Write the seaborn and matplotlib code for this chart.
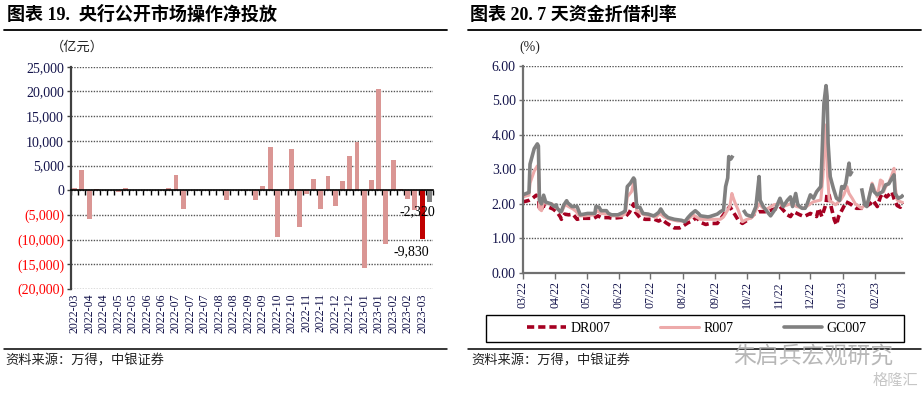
import matplotlib
matplotlib.use('Agg')
import matplotlib.pyplot as plt
import matplotlib.dates as mdates
from matplotlib.lines import Line2D
from matplotlib.patches import Rectangle
import seaborn as sns
import numpy as np
import pandas as pd

# ---------------- data: left panel (weekly net injection, 亿元) ----------------
weeks = list(range(50))
net_injection = [500, 4200, -5800, 200, 0, 0, -400, 400, 0, 0,
                 0, 0, 0, 500, 3000, -3800, 0, 100, 0, 0,
                 0, -2000, 0, 0, 0, -2000, 900, 8700, -9400, 0,
                 8400, -7400, -800, 2200, -3800, 2900, -3100, 1900, 7000, 9800,
                 -15800, 2100, 20500, -10800, 6100, 300, -1800, -4000, -9830, -2320]
bar_kind = ['历史'] * 48 + ['本周', '下周']
week_labels = ['2022-03', '2022-04', '2022-04', '2022-05', '2022-05', '2022-06', '2022-06',
               '2022-07', '2022-07', '2022-07', '2022-08', '2022-08', '2022-09', '2022-09',
               '2022-10', '2022-10', '2022-11', '2022-11', '2022-12', '2022-12',
               '2023-01', '2023-01', '2023-02', '2023-02', '2023-03']

# ---------------- data: right panel (7-day rates, %) ----------------
start_date = '2022-03-01'
gc_days = [0, 6, 7, 11, 14, 15, 16, 18, 20, 22, 27, 30, 32, 33, 36, 37, 39, 42, 43, 47,
           52, 55, 62, 69, 70, 73, 75, 80, 82, 85, 91, 96, 98, 100, 103, 106, 107, 109, 112, 115,
           120, 125, 127, 130, 132, 135, 139, 145, 152, 155, 158, 161, 165, 168, 170, 177,
           179, 186, 189, 192, 194, 196, 197, 199, 201, 202,
           211, 214, 219, 223, 226, 227, 230, 233, 237, 242, 246, 249, 253, 256, 258, 261, 263,
           267, 270, 272, 275, 278, 281, 285, 286, 288, 290, 291, 292, 294, 297, 300, 303, 305,
           307, 309, 311, 312, 313, 315, 316,
           324, 327, 329, 332, 334, 336, 339, 341, 344, 347, 350, 353, 355, 356, 359, 362, 364]
gc_vals = [2.26, 2.33, 3.15, 3.6, 3.74, 3.68, 2.1, 2.0, 2.25, 2.05, 2.0, 1.92, 1.97, 1.87, 1.77, 1.78, 1.95, 2.09, 2.03, 1.92,
           1.92, 1.68, 1.72, 1.72, 1.92, 1.9, 1.8, 1.8, 1.72, 1.68, 1.68, 1.75, 1.8, 2.5, 2.6, 2.75, 2.7, 1.9, 1.9, 1.72,
           1.7, 1.65, 1.68, 1.75, 1.85, 1.7, 1.6, 1.55, 1.52, 1.48, 1.6, 1.7, 1.8, 1.72, 1.65, 1.62,
           1.63, 1.7, 1.77, 1.82, 2.5, 2.75, 3.37, 3.3, 3.4, np.nan,
           1.82, 1.68, 1.63, 1.92, 2.79, 2.1, 1.92, 1.8, 1.65, 1.87, 2.16, 1.92, 2.1, 2.2, 1.92, 2.3, 1.97,
           1.87, 1.87, 2.0, 2.26, 2.16, 2.35, 2.5, 3.27, 4.92, 5.43, 5.12, 3.76, 2.79, 2.45, 2.16, 2.1, 2.5,
           2.45, 2.6, 3.0, 3.18, 2.84, 2.95, np.nan,
           2.45, 1.97, 1.92, 2.3, 2.55, 2.35, 2.26, 2.3, 2.35, 2.55, 2.58, 2.74, 2.84, 2.3, 2.16, 2.2, 2.26]

r_days = [0, 6, 7, 11, 14, 15, 16, 18, 20, 24, 28, 31, 35, 37, 40, 42, 45, 48, 51, 54,
          60, 68, 71, 75, 82, 86, 95, 98, 100, 104, 106, 108, 109, 112, 116, 124, 127, 131, 135, 141,
          148, 155, 158, 163, 167, 170, 177, 179, 189, 192, 195, 198, 200, 201, 203, 206, 210, 213,
          219, 222, 226, 230, 233, 240, 246, 249, 256, 262, 269, 275, 278, 285, 287, 289, 290, 291,
          293, 299, 304, 307, 310, 312, 315, 318, 324, 328, 331, 332, 334, 336, 339, 342, 344, 345,
          347, 350, 353, 355, 356, 358, 361, 364]
r_vals = [2.2, 2.25, 2.6, 2.95, 3.1, 3.05, 1.85, 1.8, 2.05, 2.0, 2.0, 1.9, 1.82, 1.75, 1.95, 1.95, 1.9, 1.85, 1.78, 1.65,
          1.65, 1.68, 1.8, 1.72, 1.7, 1.65, 1.65, 1.72, 2.2, 2.35, 2.6, 2.3, 1.8, 1.75, 1.68, 1.65, 1.6, 1.72, 1.62, 1.55,
          1.5, 1.5, 1.55, 1.68, 1.6, 1.55, 1.55, 1.55, 1.55, 1.62, 1.77, 1.92, 2.3, 2.2, 2.03, 1.82, 1.48, 1.53,
          1.6, 1.75, 2.0, 1.87, 1.84, 1.97, 2.0, 1.92, 2.0, 1.92, 1.87, 2.0, 2.06, 2.11, 2.79, 4.24, 4.29, 3.08,
          2.11, 1.97, 2.11, 2.26, 2.5, 2.3, 2.16, 2.0, 1.87, 2.0, 2.11, 2.3, 2.6, 2.45, 2.2, 2.69, 2.65, 2.35,
          2.5, 2.6, 2.84, 3.03, 2.5, 2.11, 2.06, 2.03]

dr_days = [0, 6, 9, 13, 15, 16, 18, 20, 25, 29, 33, 36, 37, 40, 44, 48, 52, 56, 68, 72,
           75, 82, 86, 98, 102, 106, 108, 112, 117, 126, 130, 133, 137, 145, 150, 153, 158, 162, 166, 171,
           175, 179, 186, 189, 192, 198, 200, 203, 206, 210, 216, 222, 226, 233, 243, 246, 249, 253, 256, 259,
           265, 269, 275, 281, 283, 286, 290, 291, 293, 295, 298, 300, 302, 307, 309, 313, 319, 326, 332, 335,
           339, 342, 344, 348, 353, 355, 358, 361, 364]
dr_vals = [2.05, 2.1, 2.15, 2.25, 2.2, 1.8, 1.85, 1.95, 1.9, 1.85, 1.75, 1.62, 1.55, 1.7, 1.68, 1.7, 1.55, 1.58, 1.58, 1.65,
           1.6, 1.6, 1.58, 1.62, 1.75, 2.0, 1.75, 1.6, 1.55, 1.55, 1.5, 1.55, 1.45, 1.3, 1.3, 1.35, 1.45, 1.5, 1.6, 1.45,
           1.4, 1.43, 1.43, 1.55, 1.68, 1.92, 1.82, 1.68, 1.53, 1.43, 1.55, 1.72, 1.77, 1.77, 1.87, 1.92, 1.82, 1.68, 1.63, 1.77,
           1.68, 1.63, 1.72, 1.63, 1.87, 1.63, 2.0, 2.3, 2.25, 1.9, 1.53, 1.39, 1.63, 1.92, 2.06, 2.0, 1.87, 1.87, 2.0, 2.1,
           1.92, 2.2, 2.3, 2.2, 2.35, 2.15, 1.95, 1.9, 2.03]

# ---------------- style ----------------
sns.set_theme(style='white')
SERIF = ['Liberation Serif', 'Noto Sans CJK SC', 'DejaVu Sans']
CJK = ['Noto Sans CJK SC', 'DejaVu Sans']
plt.rcParams['font.family'] = SERIF
plt.rcParams['axes.unicode_minus'] = False

NAVY = '#14144B'
RED_TXT = '#FF0000'
PINK_BAR = '#DA9694'
GRID = '#555555'

fig = plt.figure(figsize=(9.22, 3.97), dpi=100)
W, H = 922, 397


def fx(px):
    return px / W


def fy(py):
    return 1 - py / H


# ================= left panel =================
ax1 = fig.add_axes([fx(71), fy(289), fx(433) - fx(71), fy(66.8) - fy(289)])
bar_df = pd.DataFrame({'week': weeks, 'value': net_injection, 'kind': bar_kind})
sns.barplot(data=bar_df, x='week', y='value', hue='kind', dodge=False,
            palette={'历史': PINK_BAR, '本周': '#C00000', '下周': '#808080'},
            width=0.68, saturation=1, legend=False, ax=ax1, zorder=3,
            linewidth=0, edgecolor='none')
ax1.set_xlim(-0.5, len(weeks) - 0.5)
ax1.set_ylim(-20000, 25000)
yt = np.arange(-20000, 25001, 5000)
ax1.set_yticks(yt)
ax1.set_yticklabels(['0' if v == 0 else (f'{v:,}' if v > 0 else f'({-v:,})') for v in yt])
for lab, v in zip(ax1.get_yticklabels(), yt):
    lab.set_color(RED_TXT if v < 0 else NAVY)
ax1.tick_params(axis='y', labelsize=10, length=3, width=1, color='#404040', direction='out', left=True, pad=2)
ax1.grid(axis='y', linestyle=(0, (1, 1)), color=GRID, lw=1)
ax1.set_axisbelow(True)
ax1.set_xlabel('')
ax1.set_ylabel('')
for s in ['top', 'right']:
    ax1.spines[s].set_visible(False)
ax1.spines['left'].set_color('#404040')
ax1.spines['left'].set_linewidth(1.6)
ax1.spines['bottom'].set_position(('data', 0))
ax1.spines['bottom'].set_color('black')
ax1.spines['bottom'].set_linewidth(1.2)
ax1.spines['bottom'].set_zorder(4)
ax1.set_xticks(np.arange(-0.5, len(weeks), 1))
ax1.set_xticklabels([])
ax1.tick_params(axis='x', bottom=True, length=3.5, width=1, color='black', direction='out')

sec = ax1.secondary_xaxis('bottom')
sec.set_xticks(np.arange(0, len(weeks), 2), labels=week_labels)
sec.spines['bottom'].set_visible(False)
sec.tick_params(axis='x', length=0, labelsize=8.6, labelcolor=NAVY, labelrotation=90, pad=3)

# value labels for the two highlighted bars
ax1.annotate(f'{net_injection[-2]:,}', xy=(weeks[-2], net_injection[-2]), xytext=(-8, -9),
             textcoords='offset points', ha='center', va='center', fontsize=10, color='black', zorder=5)
ax1.annotate(f'{net_injection[-1]:,}', xy=(weeks[-1], net_injection[-1]), xytext=(-9, -7.5),
             textcoords='offset points', ha='center', va='center', fontsize=10, color='black', zorder=5)

fig.text(fx(77), fy(47), '（亿元）', ha='center', va='center', fontsize=9.5, family=CJK, color='#222222')

# ================= right panel =================
ax2 = fig.add_axes([fx(522.7), fy(272.7), fx(904.3) - fx(522.7), fy(66) - fy(272.7)])
t0 = pd.Timestamp(start_date)


def make_df(days, vals):
    d = pd.DataFrame({'day': days, 'rate': vals})
    d['seg'] = d['rate'].isna().cumsum()
    d = d.dropna().copy()
    d['date'] = t0 + pd.to_timedelta(d['day'], unit='D')
    return d


series = [('DR007', dr_days, dr_vals, '#A50021', 2.6, (2.0, 1.1)),
          ('R007', r_days, r_vals, '#EDAAAA', 2.2, None),
          ('GC007', gc_days, gc_vals, '#808080', 2.6, None)]
handles = []
for name, dd, vv, col, lw, dash in series:
    d = make_df(dd, vv)
    n_before = len(ax2.get_lines())
    sns.lineplot(data=d, x='date', y='rate', units='seg', estimator=None,
                 color=col, lw=lw, ax=ax2, legend=False)
    for ln in ax2.get_lines()[n_before:]:
        if dash is not None:
            ln.set_dashes(dash)
        ln.set_solid_capstyle('butt')
    h = Line2D([], [], color=col, lw=lw)
    if dash is not None:
        h.set_dashes(dash)
    handles.append((h, name))

ax2.set_xlim(t0, pd.Timestamp('2023-02-28 20:00'))
ax2.set_ylim(0, 6)
ax2.set_yticks(np.arange(0, 6.01, 1))
ax2.yaxis.set_major_formatter(matplotlib.ticker.FormatStrFormatter('%.2f'))
ax2.xaxis.set_major_locator(mdates.MonthLocator())
ax2.xaxis.set_major_formatter(mdates.DateFormatter('%m/%y'))
ax2.tick_params(axis='y', labelsize=10, labelcolor=NAVY, length=3, width=1, color='#707070',
                direction='out', left=True, pad=2)
ax2.tick_params(axis='x', labelsize=8.6, labelcolor=NAVY, labelrotation=90, length=4, width=1,
                color='#707070', direction='out', bottom=True, pad=2)
ax2.grid(axis='y', linestyle=(0, (1, 1)), color=GRID, lw=1)
ax2.set_axisbelow(True)
ax2.set_xlabel('')
ax2.set_ylabel('')
for s in ['top', 'right']:
    ax2.spines[s].set_visible(False)
for s in ['left', 'bottom']:
    ax2.spines[s].set_color('#707070')
    ax2.spines[s].set_linewidth(1.6)

fig.text(fx(530), fy(47), '(%)', ha='center', va='center', fontsize=10, color='#222222')

leg = fig.legend([h for h, _ in handles], [n for _, n in handles], loc='center',
                 bbox_to_anchor=(fx(697), fy(328.3)), ncol=3, frameon=False,
                 fontsize=10, handlelength=2.8, handletextpad=0.3, columnspacing=3.6)
for t in leg.get_texts():
    t.set_color('black')
fig.add_artist(Rectangle((fx(486), fy(341.7)), fx(904.3) - fx(486), fy(315) - fy(341.7),
                         transform=fig.transFigure, fill=False, ec='black', lw=1))

# ================= titles, rules, sources =================
fig.text(fx(7), fy(15), '图表 19.  央行公开市场操作净投放', ha='left', va='center',
         fontsize=13, fontweight='bold', color='black')
fig.text(fx(470), fy(15), '图表 20. 7 天资金折借利率', ha='left', va='center',
         fontsize=13, fontweight='bold', color='black')
for x0, x1 in [(4, 447), (468, 921)]:
    fig.add_artist(Line2D([fx(x0), fx(x1)], [fy(30), fy(30)], transform=fig.transFigure, color='black', lw=1.3))
    fig.add_artist(Line2D([fx(x0), fx(x1)], [fy(348.5), fy(348.5)], transform=fig.transFigure, color='black', lw=1.1))
fig.text(fx(5), fy(361), '资料来源：万得，中银证券', ha='left', va='center', fontsize=9.5,
         family=CJK, style='italic', color='#222222')
fig.text(fx(471), fy(361), '资料来源：万得，中银证券', ha='left', va='center', fontsize=9.5,
         family=CJK, style='italic', color='#222222')

# watermark text
fig.text(fx(733), fy(357), '朱启兵宏观研究', ha='left', va='center', fontsize=16.5,
         family=CJK, color='#B0B0B0', alpha=0.9)
fig.text(fx(873), fy(380), '格隆汇', ha='left', va='center', fontsize=11,
         family=CJK, color='#C0C0C0', alpha=0.9)

fig.savefig('out.png', dpi=100)
